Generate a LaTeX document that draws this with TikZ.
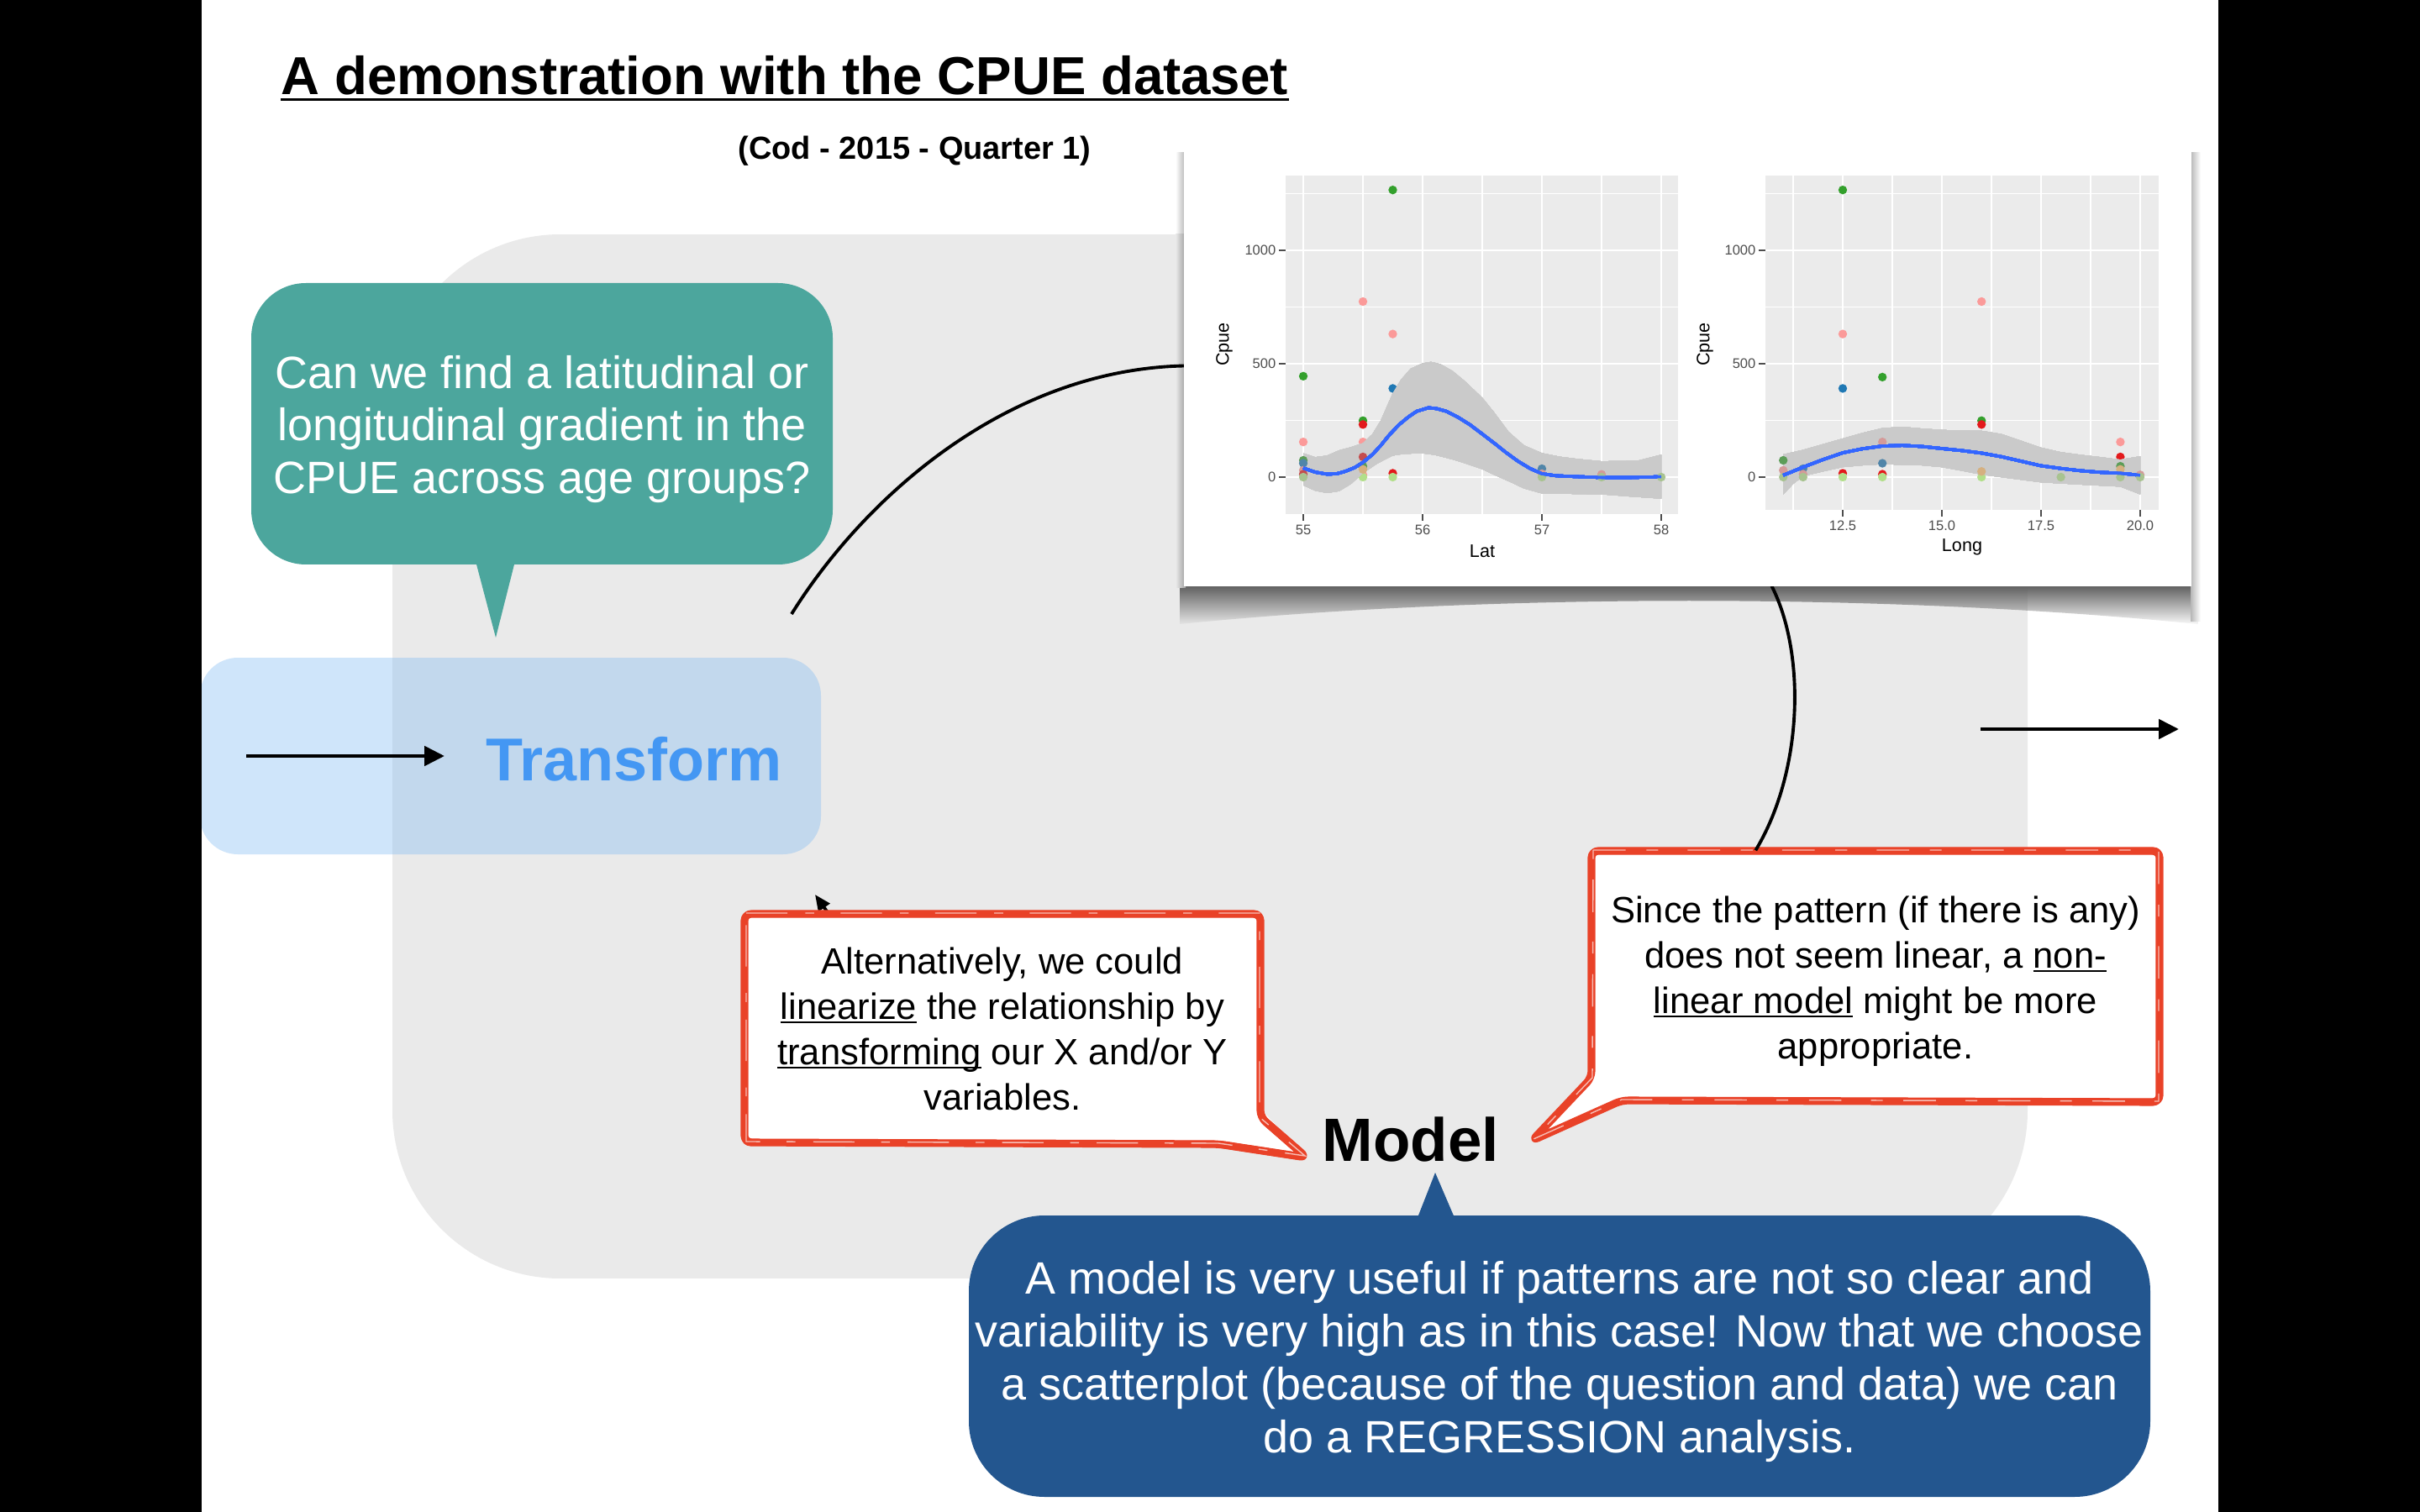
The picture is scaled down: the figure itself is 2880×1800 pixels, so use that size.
\documentclass[tikz,border=0pt]{standalone}
\usepackage{fontspec}
\setmainfont{Liberation Sans}
\usetikzlibrary{arrows.meta,calc}

\definecolor{slidegray}{RGB}{234,234,234}
\definecolor{tealc}{RGB}{76,166,157}
\definecolor{navyc}{RGB}{35,86,143}
\definecolor{redc}{RGB}{233,66,40}
\definecolor{tblue}{RGB}{131,189,242}
\definecolor{tword}{RGB}{68,151,243}
\definecolor{panelc}{RGB}{235,235,235}
\definecolor{tickc}{RGB}{77,77,77}
\definecolor{fitblue}{RGB}{51,102,255}
\definecolor{bandc}{RGB}{153,153,153}
\definecolor{pPink}{RGB}{251,154,153}
\definecolor{pRed}{RGB}{227,26,28}
\definecolor{pGreen}{RGB}{51,160,44}
\definecolor{pLGreen}{RGB}{178,223,138}
\definecolor{pBlue}{RGB}{31,120,180}
\definecolor{pOrange}{RGB}{253,191,111}
\definecolor{shadowc}{RGB}{95,95,95}

% underline sitting just under the baseline
\newcommand\myul[1]{\setbox0=\hbox{#1}\rlap{\rule[-0.11em]{\wd0}{0.05em}}#1}
% scatter points of the two panels (data coordinates -> page)
\newcommand\latpt[3]{\fill[#3] ({1551+(#1-55)*142},{568-(#2)*0.27}) circle[radius=5.2];}
\newcommand\lonpt[3]{\fill[#3] ({2193+(#1-12.5)*47.2},{568-(#2)*0.27}) circle[radius=5.2];}

\begin{document}
\begin{tikzpicture}[x=0.1mm, y=-0.1mm,
  conn/.style={line width=1.1pt, black},
  arrowline/.style={line width=1.4pt, -{Triangle[length=2.4mm, width=2.3mm]}},
  ticklab/.style={inner sep=0, text=tickc, font=\fontsize{4.7}{5}\selectfont},
  axlab/.style={inner sep=0, font=\fontsize{6.15}{7}\selectfont},
  gmajor/.style={white, line width=0.7pt},
  gminor/.style={white, line width=0.35pt},
  tickmark/.style={draw=tickc, line width=0.6pt},
  bubbletext/.style={inner sep=0, text=white, align=center, font=\fontsize{15.35}{17.9}\selectfont},
  notetext/.style={inner sep=0, align=center, font=\fontsize{12.4}{15.4}\selectfont},
  band/.style={fill=panelc!60!bandc, line join=round},
  fitline/.style={draw=fitblue, line width=1pt, line join=round},
  roughedge/.style={redc, rounded corners=0.8mm, line join=round},
  streak/.style={redc!35!white, line width=0.4pt}
]
\useasboundingbox (0,0) rectangle (2880,1800);
\fill[white] (0,0) rectangle (2880,1800);

% title
\node[anchor=base west, inner sep=0, font=\fontsize{18.1}{21}\selectfont\bfseries] (title) at (334,113) {A demonstration with the CPUE dataset};
\draw[line width=0.85pt] ([yshift=-0.55mm]title.base west) -- ([yshift=-0.55mm]title.base east);
\node[anchor=base west, inner sep=0, font=\fontsize{10.8}{13}\selectfont\bfseries] (sub) at (878,190) {(Cod - 2015 - Quarter 1)};

% large cycle panel
\node[fill=slidegray, rounded corners=20mm, minimum width=194.6mm, minimum height=124.3mm, inner sep=0] (cycle) at (1440,900.5) {};

% Transform stage
\node[fill=tblue, fill opacity=0.38, rounded corners=4.5mm, minimum width=73.9mm, minimum height=23.4mm, inner sep=0] (tbox) at (607.5,900) {};
\node[anchor=base west, inner sep=0, text=tword, font=\fontsize{20.5}{24}\selectfont\bfseries] (tlabel) at (578,929) {Transform};
\coordinate (inL) at (293,900);
\draw[arrowline] (inL) -- ($(tlabel.west |- inL)+(-49,0)$);
\coordinate (outA) at (2357,868);
\coordinate (outB) at (2593,868);
\draw[arrowline] (outA) -- (outB);

% question bubble
\node[fill=tealc, rounded corners=6.5mm, minimum width=69.2mm, minimum height=33.5mm, inner sep=0] (q) at (645,504.5) {};
\fill[tealc] (566,668) -- (590,759) -- (613,668) -- cycle;
\node[bubbletext] (qtxt) at (645,511)
  {Can we find a latitudinal or\\longitudinal gradient in the\\CPUE across age groups?};

% plot sheet (placeholder for anchors) and its curled shadow
\node[minimum width=119.7mm, minimum height=52.3mm, inner sep=0] (plots) at (2008.5,435.5) {};
\begin{scope}
  \clip (1404,697) -- (2616,697) -- (2616,743)
    .. controls (2250,706) and (1770,706) .. (1404,743) -- cycle;
  \shade[top color=shadowc, bottom color=slidegray] (1404,697) rectangle (2413,745);
  \shade[top color=shadowc, bottom color=white] (2413,697) rectangle (2616,745);
\end{scope}
\shade[left color=white, right color=black!30] (1399,182) rectangle (1411,279);
\shade[left color=slidegray, right color=black!38] (1399,279) rectangle (1411,700);
\shade[left color=black!28, right color=white] (2607,182) rectangle (2619,740);

% partly hidden arrow returning towards Transform
\coordinate (backS) at (996,1102);
\coordinate (backT) at (970,1065);
\draw[line width=1.1pt, -{Triangle[length=1.9mm, width=1.6mm]}] (backS) -- (backT);

% note: linearize
\node[fill=white, minimum width=61.4mm, minimum height=27.2mm, notetext] (alt) at (1193,1225)
  {Alternatively, we could\\\myul{linearize} the relationship by\\\myul{transforming} our X and/or Y\\variables.};
\fill[white] (1500,1320) -- (1555,1378) -- (1440,1362) -- (1440,1330) -- cycle;
\foreach \dx/\dy/\lw in {0/0/2.6pt, 2/-3/0.6pt, -2/3/0.6pt}
  \draw[roughedge, line width=\lw]
    (886+\dx,1088+\dy) -- (1500+\dx,1088+\dy) -- (1500+\dx,1330+\dy) -- (1555+\dx,1378+\dy)
    -- (1450+\dx,1362+\dy) -- (886+\dx,1360+\dy) -- cycle;
\draw[streak, dash pattern=on 14pt off 6pt on 3pt off 9pt]
    (888,1087) -- (1499,1087) -- (1499,1330) -- (1553,1376) -- (1450,1361) -- (888,1359) -- cycle;

% note: non-linear model
\node[fill=white, minimum width=67.6mm, minimum height=29.9mm, inner sep=0] (since) at (2232,1162.5) {};
\node[notetext] (sincetxt) at (2232,1168)
  {Since the pattern (if there is any)\\does not seem linear, a \myul{non-}\\\myul{linear model} might be more\\appropriate.};
\fill[white] (1894,1283) -- (1823,1358) -- (1930,1310) -- (1930,1283) -- cycle;
\foreach \dx/\dy/\lw in {0/0/2.6pt, 2/-3/0.6pt, -2/3/0.6pt}
  \draw[roughedge, line width=\lw]
    (1894+\dx,1013+\dy) -- (2570+\dx,1013+\dy) -- (2570+\dx,1312+\dy) -- (1930+\dx,1310+\dy)
    -- (1823+\dx,1358+\dy) -- (1894+\dx,1283+\dy) -- cycle;
\draw[streak, dash pattern=on 11pt off 7pt on 4pt off 10pt]
    (1896,1012) -- (2569,1012) -- (2569,1311) -- (1930,1309) -- (1825,1356) -- (1895,1283) -- cycle;

% connectors from question to plots to note
\coordinate (a1) at (942,731);
\draw[conn] (a1) .. controls (1030,590) and (1200,440) .. (plots.west);
\draw[conn] ($(plots.south)+(100,0)$) .. controls (2150,780) and (2145,920) .. ($(since.north west)+(196,0)$);

% plot sheet
\fill[white] (plots.south west) rectangle (plots.north east);

% ---- panel 1: Cpue vs Lat ----
\fill[panelc] (1530,209) rectangle (1997,612);
\foreach \g in {55.5,56.5,57.5} \draw[gminor] ({1551+(\g-55)*142},209) -- ({1551+(\g-55)*142},612);
\foreach \g in {250,750,1250} \draw[gminor] (1530,{568-\g*0.27}) -- (1997,{568-\g*0.27});
\foreach \g in {55,56,57,58} \draw[gmajor] ({1551+(\g-55)*142},209) -- ({1551+(\g-55)*142},612);
\foreach \g in {0,500,1000} \draw[gmajor] (1530,{568-\g*0.27}) -- (1997,{568-\g*0.27});
\foreach \g [count=\i] in {55,56,57,58} {
  \draw[tickmark] ({1551+(\g-55)*142},612) -- ({1551+(\g-55)*142},620);
  \node[ticklab, anchor=north] (latx\i) at ({1551+(\g-55)*142},624) {\g};
}
\foreach \g [count=\i] in {0,500,1000} {
  \draw[tickmark] (1522,{568-\g*0.27}) -- (1530,{568-\g*0.27});
  \node[ticklab, anchor=east] (laty\i) at (1519,{568-\g*0.27}) {\g};
}
\node[axlab] (lattitle) at (1764,656) {Lat};
\node[axlab, rotate=90] (latcpue) at (1457,410) {Cpue};
% points outside the band
\foreach \a/\v/\c in {55/445/pGreen, 55/155/pPink,
  55.5/774/pPink, 55.5/249/pGreen, 55.5/232/pRed, 55.5/155/pPink, 55.5/10/pPink, 55.5/0/pLGreen,
  55.75/1266/pGreen, 55.75/631/pPink, 55.75/391/pBlue, 55.75/17/pRed, 55.75/0/pLGreen}
  \latpt{\a}{\v}{\c}
% confidence band and loess fit
\fill[band]
  (1551,539.65) -- (1565.2,544.24) -- (1579.4,542.35) -- (1593.6,536.14) -- (1607.8,532.36) -- (1622,527.5)
  -- (1633.4,516.7) -- (1643.3,500.5) -- (1657.5,468.1) -- (1667.4,451.9) -- (1678.8,438.9) -- (1693,432.5)
  -- (1703,430.8) -- (1714.3,433.5) -- (1728.5,441.6) -- (1742.7,453.3) -- (1764,473.5) -- (1778.2,491)
  -- (1795.2,514) -- (1813.7,530.2) -- (1835,539.4) -- (1856.3,543.7) -- (1877.6,546.4) -- (1906,549.1)
  -- (1948.6,548.6) -- (1977,541.3)
  -- (1977,593.65) -- (1941.5,591.2) -- (1906,588.5) -- (1870.5,588) -- (1835,587.4) -- (1813.7,581.5)
  -- (1799.5,574.75) -- (1778.2,565.3) -- (1764,558.55) -- (1742.7,551.3) -- (1728.5,546.9) -- (1707.2,541.5)
  -- (1693,539.65) -- (1671.7,540.2) -- (1657.5,542.35) -- (1639,551.8) -- (1622,563.4) -- (1607.8,576.1)
  -- (1593.6,584.7) -- (1579.4,586.9) -- (1565.2,584.2) -- (1551,577.7) -- cycle;
% points seen through the band
\foreach \a/\v/\c in {55/74/pGreen, 55/61/pBlue, 55/30/pPink, 55/13/pRed, 55/0/pLGreen,
  55.5/89/pRed, 55.5/48/pGreen, 55.5/34/pOrange,
  57/37/pBlue, 57/15/pPink, 57/0/pLGreen, 57.5/12/pPink, 57.5/0/pLGreen, 58/0/pLGreen}
  \latpt{\a}{\v}{\c!60!bandc}
\draw[fitline]
  (1551,557.2) -- (1565.2,562.1) -- (1579.4,564.5) -- (1590.8,564) -- (1600.7,561.25) -- (1612.1,556.7)
  -- (1622,550.45) -- (1633.4,541) -- (1643.3,530.2) -- (1653.2,518.05) -- (1664.6,505.9) -- (1676,496.45)
  -- (1685.9,489.7) -- (1700.1,485.4) -- (1710,486.5) -- (1721.4,489.7) -- (1735.6,497) -- (1749.8,505.9)
  -- (1764,516.7) -- (1778.2,527.5) -- (1792.4,538.8) -- (1806.6,549.1) -- (1820.8,557.7) -- (1835,563.95)
  -- (1852,566.4) -- (1870.5,567.2) -- (1906,568.5) -- (1941.5,568.5) -- (1977,567.5);

% ---- panel 2: Cpue vs Long ----
\fill[panelc] (2101,209) rectangle (2569,607);
\foreach \g in {11.25,13.75,16.25,18.75} \draw[gminor] ({2193+(\g-12.5)*47.2},209) -- ({2193+(\g-12.5)*47.2},607);
\foreach \g in {250,750,1250} \draw[gminor] (2101,{568-\g*0.27}) -- (2569,{568-\g*0.27});
\foreach \g in {12.5,15,17.5,20} \draw[gmajor] ({2193+(\g-12.5)*47.2},209) -- ({2193+(\g-12.5)*47.2},607);
\foreach \g in {0,500,1000} \draw[gmajor] (2101,{568-\g*0.27}) -- (2569,{568-\g*0.27});
\foreach \g/\t [count=\i] in {12.5/12.5,15/15.0,17.5/17.5,20/20.0} {
  \draw[tickmark] ({2193+(\g-12.5)*47.2},607) -- ({2193+(\g-12.5)*47.2},615);
  \node[ticklab, anchor=north] (lonx\i) at ({2193+(\g-12.5)*47.2},619) {\t};
}
\foreach \g [count=\i] in {0,500,1000} {
  \draw[tickmark] (2093,{568-\g*0.27}) -- (2101,{568-\g*0.27});
  \node[ticklab, anchor=east] (lony\i) at (2090,{568-\g*0.27}) {\g};
}
\node[axlab] (lontitle) at (2335,651) {Long};
\node[axlab, rotate=90] (loncpue) at (2029,410) {Cpue};
% points outside the band
\foreach \a/\v/\c in {12.5/1266/pGreen, 16/774/pPink, 12.5/631/pPink, 13.5/441/pGreen, 12.5/391/pBlue, 16/249/pGreen, 16/232/pRed,
  19.5/155/pPink, 19.5/89/pRed, 12.5/17/pRed, 13.5/13/pRed, 12.5/0/pLGreen, 13.5/0/pLGreen, 16/0/pLGreen}
  \lonpt{\a}{\v}{\c}
\fill[band]
  (2122.2,541) -- (2145.8,535.6) -- (2169.4,528.85) -- (2193,522.1) -- (2216.6,515.35) -- (2240.2,509.7)
  -- (2263.8,508.1) -- (2287.4,510.2) -- (2311,511.8) -- (2334.6,512.65) -- (2358.2,512.9) -- (2381.8,516.7)
  -- (2405.4,524.8) -- (2429,532.9) -- (2452.6,538.3) -- (2476.2,541.5) -- (2499.8,544.2) -- (2523.4,547.2)
  -- (2547,543.2)
  -- (2547,588.5) -- (2523.4,579.3) -- (2476.2,576.9) -- (2429,574.2) -- (2391.2,569.35) -- (2358.2,565)
  -- (2334.6,560.4) -- (2311,556.1) -- (2287.4,554) -- (2240.2,552.6) -- (2216.6,554) -- (2193,556.1)
  -- (2169.4,561.25) -- (2145.8,566.9) -- (2134,576.1) -- (2122.2,588.5) -- cycle;
% points seen through the band
\foreach \a/\v/\c in {11/74/pGreen, 11/30/pPink, 11/0/pLGreen, 11.5/37/pBlue, 11.5/13/pPink, 11.5/0/pLGreen,
  13.5/155/pPink, 13.5/61/pBlue, 16/25/pOrange, 18/0/pLGreen,
  19.5/48/pGreen, 19.5/34/pOrange, 19.5/0/pLGreen, 20/10/pPink, 20/0/pLGreen}
  \lonpt{\a}{\v}{\c!60!bandc}
\draw[fitline]
  (2122.2,565.8) -- (2134,561) -- (2145.8,556.1) -- (2169.4,547.2) -- (2193,539.1) -- (2216.6,534.25)
  -- (2240.2,531) -- (2263.8,530.2) -- (2287.4,531.55) -- (2311,534) -- (2334.6,536.4) -- (2358.2,539.4)
  -- (2381.8,543.7) -- (2405.4,549.1) -- (2429,554.5) -- (2452.6,557.7) -- (2476.2,560.4) -- (2499.8,562.3)
  -- (2523.4,563.4) -- (2547,565.8);

% Model stage
\node[anchor=base west, inner sep=0, font=\fontsize{20.7}{24}\selectfont\bfseries] (model) at (1573,1382) {Model};

% regression bubble
\node[fill=navyc, rounded corners=9mm, minimum width=140.6mm, minimum height=33.5mm, inner sep=0] (reg) at (1856,1614.5) {};
\fill[navyc] (1686,1452) -- (1708,1396) -- (1732,1452) -- cycle;
\node[bubbletext] (regtxt) at (1856,1621)
  {A model is very useful if patterns are not so clear and\\variability is very high as in this case! Now that we choose\\a scatterplot (because of the question and data) we can\\do a REGRESSION analysis.};

% side bars
\fill[black] (0,0) rectangle (240,1800);
\fill[black] (2640,0) rectangle (2880,1800);
\end{tikzpicture}
\end{document}
